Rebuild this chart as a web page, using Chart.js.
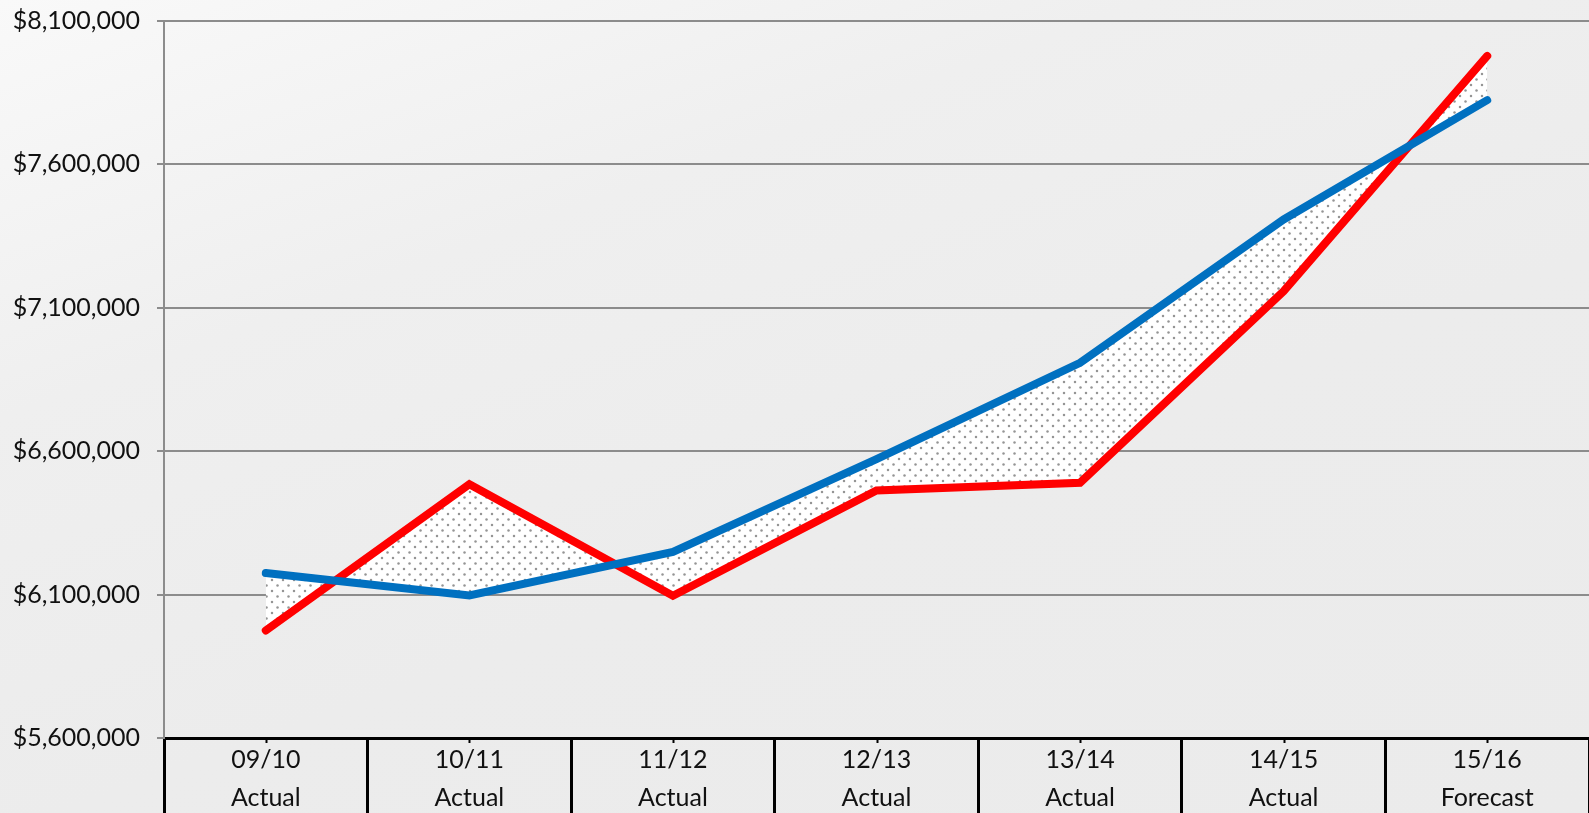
<!DOCTYPE html>
<html lang="en">
  <head>
    <meta charset="UTF-8" />
    <title>Annual Totals</title>
    <style>
      html,
      body {
        margin: 0;
        padding: 0;
        width: 1589px;
        height: 813px;
        overflow: hidden;
        background: linear-gradient(160deg, #f9f9f9 0%, #efefef 30%, #ececec 60%, #ebebeb 100%);
        font-family: Lato, "DejaVu Sans", sans-serif;
      }
      canvas {
        display: block;
      }
    </style>
    <script src="https://cdn.jsdelivr.net/npm/chart.js"></script>
  </head>
  <body>
    <canvas id="lineChart" width="1589" height="813"></canvas>

    <script>
      // Year labels (two lines each)
      const years = ["09/10", "10/11", "11/12", "12/13", "13/14", "14/15", "15/16"];
      const status = ["Actual", "Actual", "Actual", "Actual", "Actual", "Actual", "Forecast"];

      // Series values ($)
      const blueValues = [6175000, 6097000, 6249000, 6572000, 6908000, 7408000, 7824000];
      const redValues = [5975000, 6485000, 6096000, 6463000, 6490000, 7158000, 7978000];

      // Y axis range
      const yMin = 5600000;
      const yMax = 8100000;
      const yStep = 500000;

      const labels = years.map((y, i) => [y, status[i]]);

      // Dotted fill for the gap between the two lines
      function makeDotPattern() {
        const tile = document.createElement("canvas");
        tile.width = 11;
        tile.height = 11;
        const c = tile.getContext("2d");
        c.fillStyle = "#ffffff";
        c.fillRect(0, 0, 11, 11);
        c.fillStyle = "#959595";
        [[2.5, 2.5], [8, 8]].forEach(([x, y]) => {
          c.beginPath();
          c.arc(x, y, 1.25, 0, Math.PI * 2);
          c.fill();
        });
        return c.createPattern(tile, "repeat");
      }

      // Small marks under the axis at each category centre
      const centerTicks = {
        id: "centerTicks",
        afterDraw(chart) {
          const xs = chart.scales.x;
          const ctx = chart.ctx;
          ctx.save();
          ctx.strokeStyle = "#000";
          ctx.lineWidth = 2;
          xs.ticks.forEach((t, i) => {
            const x = Math.round(xs.getPixelForTick(i)) + 0.5;
            ctx.beginPath();
            ctx.moveTo(x, xs.top);
            ctx.lineTo(x, xs.top + 5);
            ctx.stroke();
          });
          ctx.restore();
        },
      };

      const ctx = document.getElementById("lineChart").getContext("2d");
      new Chart(ctx, {
        type: "line",
        data: {
          labels: labels,
          datasets: [
            {
              label: "Projected",
              data: blueValues,
              borderColor: "#0070c0",
              borderWidth: 8,
              borderCapStyle: "round",
              borderJoinStyle: "miter",
              pointRadius: 0,
              tension: 0,
              fill: false,
            },
            {
              label: "Actual",
              data: redValues,
              borderColor: "#ff0000",
              borderWidth: 8,
              borderCapStyle: "round",
              borderJoinStyle: "miter",
              pointRadius: 0,
              tension: 0,
              fill: "-1",
              backgroundColor: makeDotPattern(),
            },
          ],
        },
        options: {
          responsive: false,
          animation: false,
          layout: {
            padding: { top: 21, right: 0, bottom: 0, left: 0 },
          },
          plugins: {
            legend: { display: false },
            tooltip: { enabled: false },
          },
          scales: {
            x: {
              offset: true,
              border: { color: "#000", width: 3 },
              grid: {
                offset: true,
                drawOnChartArea: false,
                color: "#000",
                lineWidth: 3,
                tickLength: 75,
              },
              ticks: {
                color: "#111",
                padding: -72,
                maxRotation: 0,
                font: { family: "Lato", size: 25, lineHeight: 1.52 },
              },
              afterFit(scale) {
                scale.height = 75;
              },
            },
            y: {
              min: yMin,
              max: yMax,
              border: { color: "#8c8c8c", width: 2 },
              grid: {
                color: "#8c8c8c",
                lineWidth: 2,
                tickLength: 7,
              },
              ticks: {
                stepSize: yStep,
                color: "#111",
                padding: 17,
                font: { family: "Lato", size: 25 },
                callback: (v) => "$" + Number(v).toLocaleString("en-US"),
              },
              afterFit(scale) {
                scale.width = 164;
                scale.paddingTop = 0;
                scale.paddingBottom = 0;
              },
            },
          },
        },
        plugins: [centerTicks],
      });
    </script>
  </body>
</html>
